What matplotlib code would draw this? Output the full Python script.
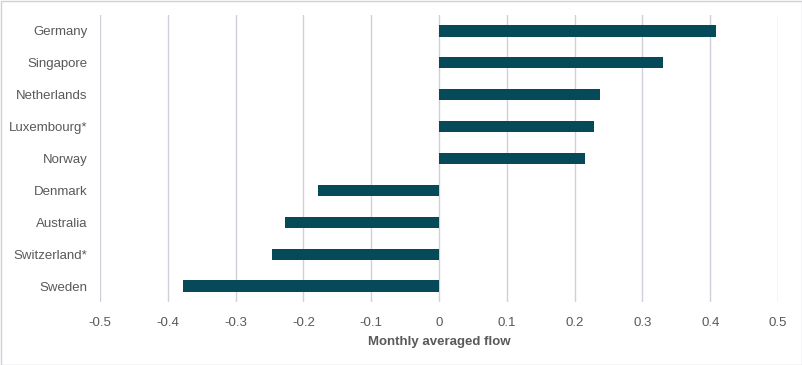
import matplotlib.pyplot as plt
from matplotlib.patches import Rectangle

countries = [
    "Germany",
    "Singapore",
    "Netherlands",
    "Luxembourg*",
    "Norway",
    "Denmark",
    "Australia",
    "Switzerland*",
    "Sweden",
]
flow = [0.408, 0.330, 0.238, 0.228, 0.215, -0.178, -0.227, -0.246, -0.378]
x_ticks = [-0.5, -0.4, -0.3, -0.2, -0.1, 0, 0.1, 0.2, 0.3, 0.4, 0.5]
x_tick_labels = ["-0.5", "-0.4", "-0.3", "-0.2", "-0.1", "0", "0.1", "0.2", "0.3", "0.4", "0.5"]

plt.rcParams["font.family"] = ["Liberation Sans", "DejaVu Sans"]
text_color = "#595959"
grid_color = "#D0D0D8"
bar_color = "#064A59"

fig = plt.figure(figsize=(8.03, 3.65), dpi=100)
ax = fig.add_axes([100 / 803, 1 - 302 / 365, 678 / 803, 287 / 365])

y_pos = list(range(len(countries)))
ax.barh(y_pos, flow, height=0.35, color=bar_color, zorder=3)

ax.set_xlim(-0.5, 0.5)
ax.set_ylim(len(countries) - 0.5, -0.5)
ax.set_xticks(x_ticks)
ax.set_xticklabels(x_tick_labels)
ax.set_yticks(y_pos)
ax.set_yticklabels(countries)
ax.tick_params(axis="both", length=0, labelsize=9.5, labelcolor=text_color)
ax.tick_params(axis="y", pad=9)
ax.tick_params(axis="x", pad=11)
ax.grid(axis="x", color=grid_color, lw=1, zorder=0)
ax.set_axisbelow(True)
for spine in ax.spines.values():
    spine.set_visible(False)

ax.set_xlabel("Monthly averaged flow", fontsize=9.5, fontweight="bold",
              color=text_color, labelpad=5)

fig.patches.append(Rectangle((0.5 / 803, 0.5 / 365), 1 - 1.5 / 803, 1 - 1.5 / 365,
                             transform=fig.transFigure, fill=False,
                             edgecolor=grid_color, lw=1))

fig.savefig("out.png", dpi=100)
